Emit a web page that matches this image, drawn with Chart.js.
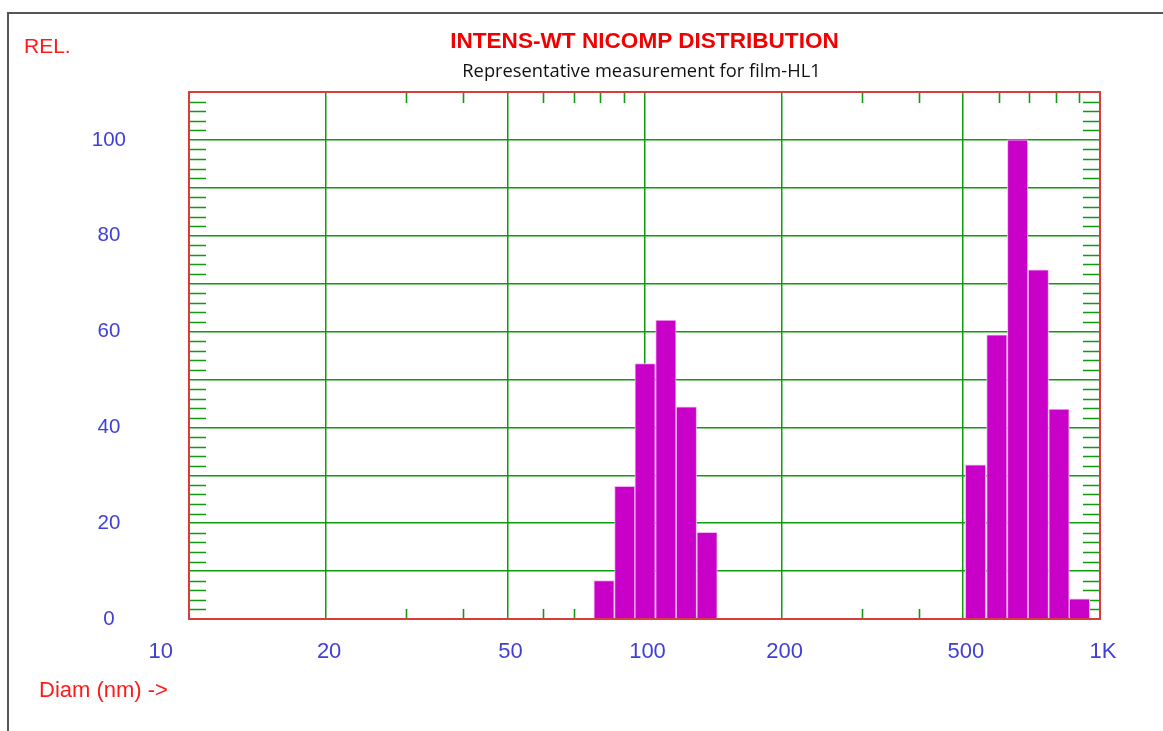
<!DOCTYPE html>
<html>
<head>
<meta charset="utf-8">
<title>INTENS-WT NICOMP DISTRIBUTION</title>
<script src="https://cdn.jsdelivr.net/npm/chart.js@4.4.1/dist/chart.umd.min.js"></script>
<style>
  html, body { margin: 0; padding: 0; background: #fff; }
  #page { position: relative; width: 1163px; height: 731px; overflow: hidden; }
  #frame { position: absolute; left: 7px; top: 12px; right: -10px; bottom: -10px;
           border-left: 2px solid #555; border-top: 2px solid #555; }
  #chart-box { position: absolute; left: 0; top: 0; width: 1163px; height: 731px; }
  .lbl { position: absolute; white-space: nowrap; font-family: "Liberation Sans", Arial, sans-serif; }
  #rel { left: 24px; top: 35px; font-size: 21px; line-height: 21px; color: #ff1a1a; }
  #title { left: 189px; width: 911px; top: 30px; text-align: center; font-size: 22.6px;
           line-height: 22px; font-weight: bold; color: #f00000; }
  #subtitle { left: 186px; width: 911px; top: 61px; text-align: center; font-family: "Open Sans", sans-serif;
              font-size: 18.3px; line-height: 18px; color: #111; }
  #xlabel { left: 39px; top: 679px; font-size: 22px; line-height: 22px; color: #ff1a1a; }
</style>
</head>
<body>
<div id="page">
  <div id="frame"></div>
  <div id="chart-box"><canvas id="nicomp"></canvas></div>
  <div class="lbl" id="rel">REL.</div>
  <div class="lbl" id="title">INTENS-WT NICOMP DISTRIBUTION</div>
  <div class="lbl" id="subtitle">Representative measurement for film-HL1</div>
  <div class="lbl" id="xlabel">Diam (nm) -&gt;</div>
</div>
<script>
// Histogram bins: centre diameter (nm) and relative intensity
const DIAMETERS_NM = [81.5, 90.5, 100.3, 111.4, 123.6, 137.2, 533, 593.6, 659.4, 732.2, 812.9, 901.6];
const INTENSITY = [8.0, 27.7, 53.3, 62.4, 44.3, 18.1, 32.2, 59.3, 100, 72.9, 43.8, 4.2];

// Axes
const X_TICK_VALUES = [10, 20, 50, 100, 200, 500, 1000];
const X_TICK_LABELS = ["10", "20", "50", "100", "200", "500", "1K"];
const X_MINOR_VALUES = [30, 40, 60, 70, 80, 90, 300, 400, 600, 700, 800, 900];
const Y_TICK_LABELS = [0, 20, 40, 60, 80, 100];
const Y_MIN = 0, Y_MAX = 110, Y_GRID_STEP = 10, Y_MINOR_STEP = 2;

const GREEN = "#0e9c0e";
const RED = "#d93c3c";
const BLUE = "#4040d8";
const MAGENTA = "#c800c8";

// short inner tick marks on all four sides (drawn under the bars)
const minorTicks = {
  id: "minorTicks",
  beforeDatasetsDraw(chart) {
    const { ctx, chartArea: a, scales: { x, y } } = chart;
    ctx.save();
    ctx.strokeStyle = GREEN;
    ctx.lineWidth = 1.6;
    ctx.beginPath();
    X_MINOR_VALUES.forEach((v) => {
      const px = Math.round(x.getPixelForValue(v)) + 0.5;
      ctx.moveTo(px, a.top); ctx.lineTo(px, a.top + 11);
      ctx.moveTo(px, a.bottom); ctx.lineTo(px, a.bottom - 10);
    });
    for (let v = Y_MIN + Y_MINOR_STEP; v < Y_MAX; v += Y_MINOR_STEP) {
      if (v % Y_GRID_STEP === 0) continue;
      const py = Math.round(y.getPixelForValue(v)) + 0.5;
      ctx.moveTo(a.left, py); ctx.lineTo(a.left + 17, py);
      ctx.moveTo(a.right, py); ctx.lineTo(a.right - 17, py);
    }
    ctx.stroke();
    ctx.restore();
  },
};

// red box round the plot area
const plotFrame = {
  id: "plotFrame",
  afterDatasetsDraw(chart) {
    const { ctx, chartArea: a } = chart;
    ctx.save();
    ctx.strokeStyle = RED;
    ctx.lineWidth = 2;
    ctx.strokeRect(a.left, a.top, a.right - a.left, a.bottom - a.top);
    ctx.restore();
  },
};

// x tick labels; the first one sits left of the axis start like the original
const xLabels = {
  id: "xLabels",
  afterDraw(chart) {
    const { ctx, chartArea: a, scales: { x } } = chart;
    ctx.save();
    ctx.font = '22px "Liberation Sans", Arial, sans-serif';
    ctx.fillStyle = BLUE;
    ctx.textBaseline = "middle";
    X_TICK_VALUES.forEach((v, i) => {
      const px = x.getPixelForValue(v);
      if (i === 0) { ctx.textAlign = "right"; ctx.fillText(X_TICK_LABELS[i], px - 16, a.bottom + 33); }
      else { ctx.textAlign = "center"; ctx.fillText(X_TICK_LABELS[i], px + 3, a.bottom + 33); }
    });
    ctx.restore();
  },
};

new Chart(document.getElementById("nicomp"), {
  type: "bar",
  data: {
    datasets: [{
      label: "Intensity",
      data: DIAMETERS_NM.map((d, i) => ({ x: d, y: INTENSITY[i] })),
      backgroundColor: MAGENTA,
      borderColor: "#f2b8f2",
      borderWidth: 1,
      barPercentage: 1,
      categoryPercentage: 1,
    }],
  },
  options: {
    responsive: true,
    maintainAspectRatio: false,
    animation: false,
    devicePixelRatio: 1,
    layout: { padding: { top: 92, right: 63, left: 0, bottom: 0 } },
    plugins: { legend: { display: false }, tooltip: { enabled: false } },
    scales: {
      x: {
        type: "logarithmic",
        min: 10,
        max: 1000,
        offset: false,
        afterBuildTicks: (scale) => { scale.ticks = X_TICK_VALUES.map((v) => ({ value: v })); },
        afterFit: (scale) => { scale.height = 112; },
        grid: { offset: false, color: GREEN, lineWidth: 1.5, drawTicks: false },
        border: { display: false },
        ticks: { display: false },
      },
      y: {
        min: Y_MIN,
        max: Y_MAX,
        afterFit: (scale) => { scale.width = 189; },
        grid: { color: GREEN, lineWidth: 1.5, drawTicks: false },
        border: { display: false },
        ticks: {
          stepSize: Y_GRID_STEP,
          padding: 63,
          crossAlign: "center",
          color: BLUE,
          font: { family: '"Liberation Sans", Arial, sans-serif', size: 20.5 },
          callback: (v) => (Y_TICK_LABELS.includes(v) ? String(v) : ""),
        },
      },
    },
  },
  plugins: [minorTicks, plotFrame, xLabels],
});
</script>
</body>
</html>
